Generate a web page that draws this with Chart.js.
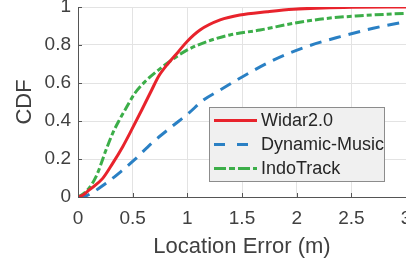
<!DOCTYPE html>
<html>
<head>
<meta charset="utf-8">
<script src="https://cdn.jsdelivr.net/npm/chart.js@4.4.0/dist/chart.umd.min.js"></script>
<style>
    html, body { margin: 0; padding: 0; background: #fff; overflow: hidden; }
    #wrap { width: 416px; height: 264px; }
</style>
</head>
<body>
<div id="wrap"><canvas id="chart" width="416" height="264"></canvas></div>
<script>
// values (location error in m -> CDF)
const widarX = [0, 0.05, 0.103, 0.226, 0.317, 0.409, 0.49, 0.583, 0.674, 0.735, 0.826, 0.918, 1.0, 1.116, 1.3, 1.48, 1.73, 1.97, 2.43, 3.0];
const widarY = [0, 0.012, 0.037, 0.098, 0.177, 0.265, 0.353, 0.458, 0.563, 0.633, 0.704, 0.765, 0.82, 0.879, 0.932, 0.958, 0.975, 0.988, 0.998, 1.0];

const musicX = [0, 0.073, 0.256, 0.409, 0.515, 0.674, 0.857, 1.01, 1.147, 1.3, 1.48, 1.787, 2.09, 2.4, 2.7, 3.0];
const musicY = [0, 0.006, 0.072, 0.142, 0.195, 0.283, 0.37, 0.44, 0.51, 0.563, 0.625, 0.72, 0.791, 0.844, 0.888, 0.923];

const indoX = [0, 0.073, 0.165, 0.256, 0.317, 0.378, 0.43, 0.52, 0.613, 0.735, 0.857, 1.0, 1.18, 1.39, 1.665, 1.97, 2.275, 2.58, 3.0];
const indoY = [0, 0.028, 0.107, 0.247, 0.335, 0.405, 0.458, 0.546, 0.607, 0.668, 0.721, 0.774, 0.818, 0.853, 0.879, 0.914, 0.94, 0.954, 0.967];

const seriesNames = ['Widar2.0', 'Dynamic-Music', 'IndoTrack'];
const xTicks = [0, 0.5, 1, 1.5, 2, 2.5, 3];
const yTicks = [0, 0.2, 0.4, 0.6, 0.8, 1];

const FONT = "'Liberation Sans', Arial, sans-serif";
const TEXT_COLOR = '#404040';
const AXIS_COLOR = '#555555';

const toPoints = (xs, ys) => xs.map((x, i) => ({ x, y: ys[i] }));

// MATLAB-like inward tick marks
const innerTicks = {
    id: 'innerTicks',
    afterDatasetsDraw(chart) {
        const { ctx, chartArea, scales } = chart;
        ctx.save();
        ctx.strokeStyle = AXIS_COLOR;
        ctx.lineWidth = 1;
        ctx.beginPath();
        xTicks.forEach((v) => {
            const px = Math.round(scales.x.getPixelForValue(v)) + 0.5;
            ctx.moveTo(px, chartArea.bottom);
            ctx.lineTo(px, chartArea.bottom - 4);
        });
        yTicks.forEach((v) => {
            const py = Math.round(scales.y.getPixelForValue(v)) + 0.5;
            ctx.moveTo(chartArea.left, py);
            ctx.lineTo(chartArea.left + 4, py);
        });
        ctx.stroke();
        ctx.restore();
    }
};

// boxed legend inside the plot, lower right
const boxLegend = {
    id: 'boxLegend',
    afterDraw(chart) {
        const { ctx, chartArea } = chart;
        const w = 176;
        const h = 75;
        const left = chartArea.right - 21 - w;
        const top = chartArea.bottom - 15 - h;

        ctx.save();
        ctx.fillStyle = '#f0f0f0';
        ctx.fillRect(left, top, w, h);
        ctx.strokeStyle = '#8c8c8c';
        ctx.lineWidth = 1;
        ctx.strokeRect(left + 0.5, top + 0.5, w - 1, h - 1);

        ctx.font = `18px ${FONT}`;
        ctx.textBaseline = 'middle';
        ctx.textAlign = 'left';
        chart.data.datasets.forEach((ds, i) => {
            const y = top + 13.5 + i * 24;
            ctx.beginPath();
            ctx.strokeStyle = ds.borderColor;
            ctx.lineWidth = ds.borderWidth;
            ctx.setLineDash(ds.legendDash || []);
            ctx.moveTo(left + 5, y);
            ctx.lineTo(left + 48, y);
            ctx.stroke();
            ctx.setLineDash([]);
            ctx.fillStyle = '#262626';
            ctx.fillText(ds.label, left + 52, y + 1);
        });
        ctx.restore();
    }
};

new Chart(document.getElementById('chart'), {
    type: 'line',
    data: {
        datasets: [
            {
                label: seriesNames[0],
                data: toPoints(widarX, widarY),
                borderColor: '#e8232c',
                borderWidth: 3,
                legendDash: [],
            },
            {
                label: seriesNames[1],
                data: toPoints(musicX, musicY),
                borderColor: '#2a80c4',
                borderWidth: 3,
                borderDash: [12, 8],
                legendDash: [11, 12],
            },
            {
                label: seriesNames[2],
                data: toPoints(indoX, indoY),
                borderColor: '#3cae49',
                borderWidth: 3,
                borderDash: [9, 3, 5, 3],
                legendDash: [12, 3, 6, 3],
            },
        ],
    },
    options: {
        responsive: false,
        animation: false,
        elements: {
            point: { radius: 0 },
            line: { cubicInterpolationMode: 'monotone', fill: false },
        },
        layout: { padding: { top: 7, right: 10, left: 0, bottom: 0 } },
        plugins: {
            legend: { display: false },
            tooltip: { enabled: false },
        },
        scales: {
            x: {
                type: 'linear',
                min: 0,
                max: 3,
                afterBuildTicks: (scale) => { scale.ticks = xTicks.map((v) => ({ value: v })); },
                afterFit: (scale) => {
                    scale.height = 67;
                    scale.paddingLeft = 0;
                    scale.paddingRight = 0;
                },
                ticks: {
                    font: { family: FONT, size: 19 },
                    color: TEXT_COLOR,
                    padding: 10,
                    maxRotation: 0,
                    callback: (v) => String(v),
                },
                grid: { color: '#e3e3e3', drawTicks: false },
                border: { color: AXIS_COLOR, width: 1 },
                title: {
                    display: true,
                    text: 'Location Error (m)',
                    font: { family: FONT, size: 22 },
                    color: TEXT_COLOR,
                    padding: { top: 0, bottom: 4 },
                },
            },
            y: {
                type: 'linear',
                min: 0,
                max: 1,
                afterBuildTicks: (scale) => { scale.ticks = yTicks.map((v) => ({ value: v })); },
                afterFit: (scale) => {
                    scale.width = 78;
                    scale.paddingTop = 0;
                    scale.paddingBottom = 0;
                },
                ticks: {
                    font: { family: FONT, size: 19 },
                    color: TEXT_COLOR,
                    padding: 7,
                    callback: (v) => (v === 0 || v === 1 ? String(v) : v.toFixed(1)),
                },
                grid: { color: '#e3e3e3', drawTicks: false },
                border: { color: AXIS_COLOR, width: 1 },
                title: {
                    display: true,
                    text: 'CDF',
                    font: { family: FONT, size: 22 },
                    color: TEXT_COLOR,
                    padding: { top: 12, bottom: 0 },
                },
            },
        },
    },
    plugins: [innerTicks, boxLegend],
});
</script>
</body>
</html>
